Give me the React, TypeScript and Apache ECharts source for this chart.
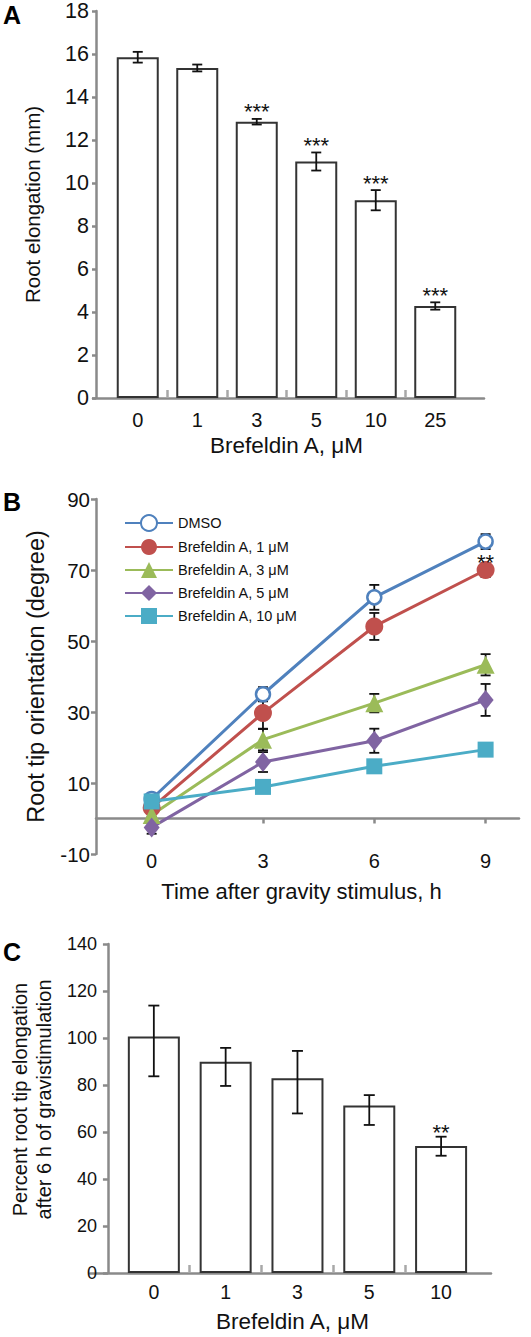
import React, { useEffect, useRef } from 'react';
import * as echarts from 'echarts';

// Panel A
const concA = ['0', '1', '3', '5', '10', '25'];
const elongA = [15.85, 15.35, 12.85, 11.0, 9.2, 4.28];
const errA = [0.25, 0.16, 0.13, 0.42, 0.47, 0.17];
const sigA = ['', '', '***', '***', '***', '***'];

// Panel B
const hoursB = [0, 3, 6, 9];
const namesB = ['DMSO', 'Brefeldin A, 1 \u03bcM', 'Brefeldin A, 3 \u03bcM', 'Brefeldin A, 5 \u03bcM', 'Brefeldin A, 10 \u03bcM'];
const dmso = [5.5, 35.0, 62.3, 78.0];
const dmsoErr = [0.5, 2.0, 3.5, 2.1];
const bfa1 = [3.0, 29.7, 54.1, 70.0];
const bfa1Err = [0.5, 4.4, 3.8, 2.0];
const bfa3 = [1.0, 22.2, 32.5, 43.3];
const bfa3Err = [0.5, 3.0, 2.6, 3.0];
const bfa5 = [-2.5, 15.9, 21.9, 33.4];
const bfa5Err = [1.8, 2.8, 3.4, 4.5];
const bfa10 = [4.8, 8.9, 14.7, 19.4];
const bfa10Err = [0.5, 0.8, 0.8, 1.0];
const sigB = ['', '', '', '**'];
const yTicksB = [-10, 10, 30, 50, 70, 90];

// Panel C
const concC = ['0', '1', '3', '5', '10'];
const pctC = [100.6, 89.9, 82.9, 71.3, 54.0];
const pctCHigh = [113.8, 95.8, 94.5, 75.7, 58.0];
const pctCLow = [83.7, 79.6, 67.9, 63.0, 49.9];
const sigC = ['', '', '', '', '**'];

const FONT = '"Liberation Sans", Arial, sans-serif';
const AXIS = '#8a8a8a';
const TXT = '#111';
const COLORS = ['#4F81BD', '#C0504D', '#9BBB59', '#8064A2', '#4BACC6'];

function errRender(sig: string[], cap: number, starGap: number, starSize: number, showBars = true) {
  return (params: any, api: any) => {
    const i = params.dataIndex;
    const x = api.value(0);
    const lo = api.coord([x, api.value(1)]);
    const hi = api.coord([x, api.value(2)]);
    const children: any[] = [];
    if (showBars && lo[1] - hi[1] > 1) {
      const st = { stroke: '#111', lineWidth: 1.8 };
      children.push({ type: 'line', shape: { x1: lo[0], y1: lo[1], x2: hi[0], y2: hi[1] }, style: st });
      children.push({ type: 'line', shape: { x1: hi[0] - cap, y1: hi[1], x2: hi[0] + cap, y2: hi[1] }, style: st });
      children.push({ type: 'line', shape: { x1: lo[0] - cap, y1: lo[1], x2: lo[0] + cap, y2: lo[1] }, style: st });
    }
    if (sig[i]) {
      children.push({
        type: 'text',
        x: hi[0],
        y: hi[1] - starGap,
        style: { text: sig[i], fill: TXT, fontSize: starSize, fontFamily: FONT, align: 'center', verticalAlign: 'middle' },
      });
    }
    return { type: 'group', children };
  };
}

// boundary ticks between categories (on a value axis aligned with the category axis)
const boundaries = (cats: string[]) => cats.slice(1).map((_, i) => i + 0.5);

export default function App() {
  const ref = useRef<HTMLDivElement>(null);
  useEffect(() => {
    const chart = echarts.init(ref.current!, undefined, { renderer: 'svg' });
    const lineSeriesB = [dmso, bfa1, bfa3, bfa5, bfa10];
    const errsB = [dmsoErr, bfa1Err, bfa3Err, bfa5Err, bfa10Err];
    const symbols = ['circle', 'circle', 'triangle', 'diamond', 'rect'];
    const sizes: any[] = [14, 18, 18, [16, 20], 16];

    const series: any[] = [
      {
        type: 'bar', xAxisIndex: 0, yAxisIndex: 0, data: elongA, barWidth: 42,
        itemStyle: { color: '#fff', borderColor: '#333', borderWidth: 2 }, z: 2,
      },
      {
        type: 'custom', xAxisIndex: 0, yAxisIndex: 0, z: 3,
        renderItem: errRender(sigA, 5, 7, 22),
        data: concA.map((_, i) => [i, elongA[i] - errA[i], elongA[i] + errA[i]]),
      },
      {
        type: 'bar', xAxisIndex: 4, yAxisIndex: 3, data: pctC, barWidth: 52,
        itemStyle: { color: '#fff', borderColor: '#333', borderWidth: 2 }, z: 2,
      },
      {
        type: 'custom', xAxisIndex: 4, yAxisIndex: 3, z: 3,
        renderItem: errRender(sigC, 5.5, 4, 22),
        data: concC.map((_, i) => [i, pctCLow[i], pctCHigh[i]]),
      },
    ];
    lineSeriesB.forEach((vals, k) => {
      series.push({
        type: 'custom', xAxisIndex: 2, yAxisIndex: 2, z: 1,
        renderItem: errRender([], 5, 0, 0),
        data: hoursB.map((h, i) => [h, vals[i] - errsB[k][i], vals[i] + errsB[k][i]]),
      });
    });
    lineSeriesB.forEach((vals, k) => {
      series.push({
        type: 'line', name: namesB[k], xAxisIndex: 2, yAxisIndex: 2, z: 3,
        data: hoursB.map((h, i) => [h, vals[i]]),
        symbol: symbols[k], symbolSize: sizes[k],
        lineStyle: { color: COLORS[k], width: 3 },
        itemStyle: k === 0
          ? { color: '#fff', borderColor: COLORS[k], borderWidth: 2.5 }
          : { color: COLORS[k], borderWidth: 0 },
      });
    });
    series.push({
      type: 'custom', xAxisIndex: 2, yAxisIndex: 2, z: 6,
      renderItem: errRender(sigB, 0, 8, 22, false),
      data: hoursB.map((h, i) => [h, bfa1[i], bfa1[i]]),
    });

    const hiddenY = (g: number) => ({ gridIndex: g, type: 'value', min: 0, max: 1, show: false });
    const helperX = (g: number) => ({
      gridIndex: g, type: 'value', min: 0, max: 1, position: 'bottom',
      axisLine: { show: true, lineStyle: { color: AXIS, width: 2.5 } },
      axisTick: { show: false }, axisLabel: { show: false }, splitLine: { show: false },
    });
    const tickX = (g: number, cats: string[]) => ({
      gridIndex: g, type: 'value', min: -0.5, max: cats.length - 0.5, position: 'bottom',
      axisLine: { show: false, onZero: false },
      axisTick: { show: true, inside: true, length: 8, customValues: boundaries(cats), lineStyle: { color: '#a8a8a8', width: 2.5 } },
      axisLabel: { show: false }, splitLine: { show: false },
    });

    chart.setOption({
      animation: false,
      textStyle: { fontFamily: FONT },
      graphic: [
        { type: 'text', left: 3, top: 2, style: { text: 'A', fontSize: 25, fontWeight: 'bold', fill: '#000', fontFamily: FONT } },
        { type: 'text', left: 3, top: 489, style: { text: 'B', fontSize: 25, fontWeight: 'bold', fill: '#000', fontFamily: FONT } },
        { type: 'text', left: 3, top: 939, style: { text: 'C', fontSize: 25, fontWeight: 'bold', fill: '#000', fontFamily: FONT } },
      ],
      legend: {
        data: namesB, orient: 'vertical', left: 119, top: 509,
        itemWidth: 48, itemHeight: 20, itemGap: 7,
        textStyle: { fontSize: 14.5, color: TXT, fontFamily: FONT },
      },
      grid: [
        { left: 108, top: 11, width: 357, height: 387 },
        { left: 93, top: 11, width: 391, height: 387 },
        { left: 96, top: 499, width: 423, height: 355 },
        { left: 107, top: 944, width: 370, height: 329 },
        { left: 90, top: 944, width: 401, height: 329 },
      ],
      xAxis: [
        {
          gridIndex: 0, type: 'category', data: concA, position: 'bottom',
          axisLine: { show: false }, axisTick: { show: false },
          axisLabel: { fontSize: 20, color: TXT, margin: 12, interval: 0 },
          name: 'Brefeldin A, \u03bcM', nameLocation: 'middle', nameGap: 36,
          nameTextStyle: { fontSize: 22.5, color: TXT },
        },
        helperX(1),
        {
          gridIndex: 2, type: 'value', min: -1.5, max: 9.9, position: 'bottom',
          axisLine: { show: false, onZero: false }, axisTick: { show: false },
          axisLabel: { customValues: hoursB, fontSize: 20, color: TXT, margin: -3 },
          splitLine: { show: false },
          name: 'Time after gravity stimulus, h', nameLocation: 'middle', nameGap: 26,
          nameTextStyle: { fontSize: 22, color: TXT, padding: [0, 12, 0, 0] },
        },
        {
          gridIndex: 2, type: 'value', min: -1.5, max: 9.9, position: 'bottom',
          axisLine: { show: true, onZero: true, lineStyle: { color: AXIS, width: 2.5 } },
          axisTick: { show: true, customValues: hoursB, length: 5, lineStyle: { color: AXIS, width: 2.5 } },
          axisLabel: { show: false }, splitLine: { show: false },
        },
        {
          gridIndex: 3, type: 'category', data: concC, position: 'bottom',
          axisLine: { show: false }, axisTick: { show: false },
          axisLabel: { fontSize: 19.5, color: TXT, margin: 9, interval: 0 },
          name: 'Brefeldin A, \u03bcM', nameLocation: 'middle', nameGap: 37,
          nameTextStyle: { fontSize: 22.5, color: TXT, padding: [0, 10, 0, 0] },
        },
        helperX(4),
        tickX(0, concA),
        tickX(3, concC),
      ],
      yAxis: [
        {
          gridIndex: 0, type: 'value', min: 0, max: 18, interval: 2, offset: 12,
          axisLine: { show: true, onZero: false, lineStyle: { color: AXIS, width: 2.5 } },
          axisTick: { show: true, length: 4, lineStyle: { color: AXIS, width: 2.5 } },
          axisLabel: { fontSize: 21.5, color: TXT, margin: 7 },
          splitLine: { show: false },
          name: 'Root elongation (mm)', nameLocation: 'middle', nameGap: 53,
          nameTextStyle: { fontSize: 20.5, color: TXT },
        },
        hiddenY(1),
        {
          gridIndex: 2, type: 'value', min: -10, max: 90,
          axisLine: { show: true, onZero: false, lineStyle: { color: AXIS, width: 2.5 } },
          axisTick: { show: true, customValues: yTicksB, length: 5, lineStyle: { color: AXIS, width: 2.5 } },
          axisLabel: { customValues: yTicksB, fontSize: 20.5, color: TXT, margin: 6 },
          splitLine: { show: false },
          name: 'Root tip orientation (degree)', nameLocation: 'middle', nameGap: 48,
          nameTextStyle: { fontSize: 23.5, color: TXT },
        },
        {
          gridIndex: 3, type: 'value', min: 0, max: 140, interval: 20, offset: 10,
          axisLine: { show: true, onZero: false, lineStyle: { color: AXIS, width: 2.5 } },
          axisTick: { show: true, length: 5, lineStyle: { color: AXIS, width: 2.5 } },
          axisLabel: { fontSize: 18, color: TXT, margin: 11 },
          splitLine: { show: false },
          name: 'Percent root tip elongation\nafter 6 h of gravistimulation', nameLocation: 'middle', nameGap: 44,
          nameTextStyle: { fontSize: 20, lineHeight: 24, color: TXT, padding: [0, 0, 0, 18] },
        },
        hiddenY(4),
      ],
      series,
    });
    return () => chart.dispose();
  }, []);
  return <div ref={ref} style={{ position: 'absolute', left: 0, top: 0, width: 531, height: 1337, background: '#fff' }} />;
}
